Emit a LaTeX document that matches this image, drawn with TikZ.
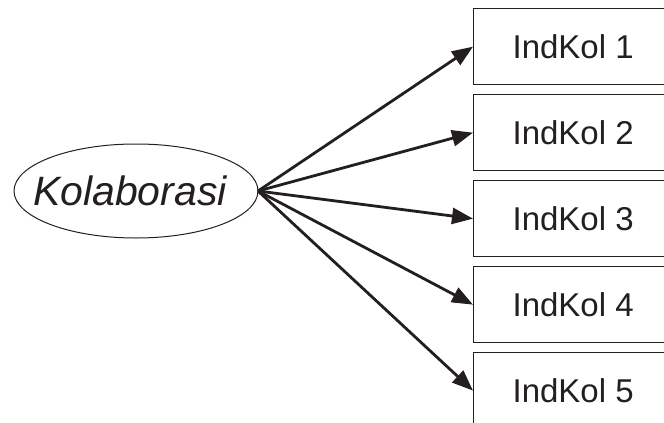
\documentclass[tikz,border=0pt]{standalone}
\usepackage{fontspec}
\setmainfont{Liberation Sans}
\usetikzlibrary{shapes.geometric,arrows.meta}
\definecolor{ink}{HTML}{231F20}
\begin{document}
\begin{tikzpicture}[x=1pt,y=-1pt,
  indbox/.style={draw=ink,line width=1.3pt,minimum width=199pt,minimum height=76pt,
    anchor=north west,inner sep=0pt,font=\fontsize{33}{38}\selectfont,text=ink},
  latent/.style={ellipse,draw=ink,line width=1pt,minimum width=244pt,minimum height=94pt,
    inner sep=0pt,outer sep=0pt},
  latentlabel/.style={font=\itshape\fontsize{41}{47}\selectfont,text=ink,inner sep=0pt},
  link/.style={draw=ink,line width=2.8pt,-{Triangle[length=21pt,width=16pt]}}]
\useasboundingbox (0,0) rectangle (664,423);
\clip (0,0) rectangle (664,423);
\node[latent] (k) at (136,191) {};
\node[latentlabel] (kt) at ([xshift=-6pt]k.center) {Kolaborasi};
\foreach \i in {1,...,5}{
  \node[indbox] (b\i) at (473,{8+86*(\i-1)}) {IndKol \i};
  \draw[link] (k.east) -- (b\i.west);
}
\end{tikzpicture}
\end{document}
